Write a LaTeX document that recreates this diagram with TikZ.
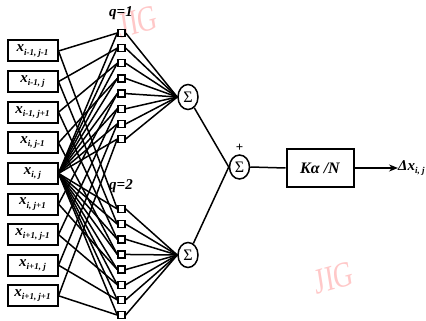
\documentclass[tikz,border=0pt]{standalone}
\usepackage{fontspec}
\setmainfont{Liberation Serif}
\usetikzlibrary{shapes.geometric,arrows.meta}
\definecolor{wm}{RGB}{255,200,200}
\tikzset{
  inbox/.style={draw,line width=2pt,minimum width=50pt,minimum height=21pt,inner sep=0pt,font=\bfseries\itshape\fontsize{15}{15}\selectfont},
  sq/.style={draw,line width=1.4pt,minimum size=7pt,inner sep=0pt},
  sig/.style={draw,ellipse,line width=1.5pt,minimum width=20pt,minimum height=25pt,inner sep=0pt,font=\fontsize{16}{16}\selectfont},
  gbox/.style={draw,line width=2pt,minimum width=67pt,minimum height=38pt,inner sep=0pt,font=\bfseries\itshape\fontsize{16}{16}\selectfont},
  wire/.style={line width=1.5pt},
  lbl/.style={font=\bfseries\itshape\fontsize{15}{15}\selectfont,inner sep=0pt},
  wmark/.style={text=wm,font=\fontsize{36}{36}\selectfont,xscale=0.75,rotate=12,inner sep=0pt}
}
\newcommand{\xs}[1]{x\raisebox{-0.45ex}{\fontsize{9}{9}\selectfont #1}}
\begin{document}
\begin{tikzpicture}[x=1pt,y=-1pt]
\useasboundingbox (0,0) rectangle (426,321);
% watermarks
\node[wmark] (wm1) at (138,22) {JIG};
\node[wmark] (wm2) at (334,278) {JIG};
% input boxes
\foreach \t [count=\k] in {{i-1, j-1},{i-1, j},{i-1, j+1},{i, j-1},{i, j},{i, j+1},{i+1, j-1},{i+1, j},{i+1, j+1}}{
  \node[inbox] (in\k) at (32.5,{51+30.6*(\k-1)}) {\xs{\t}};
}
% squares
\foreach \k in {1,...,8}{
  \node[sq] (a\k) at (121.5,{33+15.15*(\k-1)}) {};
  \node[sq] (b\k) at (121.5,{209+15.15*(\k-1)}) {};
}
\node[lbl] (q1) at (121,13) {q=1};
\node[lbl] (q2) at (121,186) {q=2};
% sums
\node[sig] (s1) at (188,97) {Σ};
\node[sig] (s2) at (188,255) {Σ};
\node[sig,minimum width=20pt,minimum height=24pt] (s3) at (239.5,167) {Σ};
\node[font=\bfseries\fontsize{13}{13}\selectfont,inner sep=0pt] (plus) at (239.5,147.5) {+};
\node[gbox] (g) at (320,168) {Kα /N};
\node[lbl,anchor=west] (out) at (398,168) {Δ\xs{i, j}};
% wires inputs to squares
\foreach \k in {1,...,8}{
  \draw[wire] (in5.east) -- (a\k.west);
  \draw[wire] (in5.east) -- (b\k.west);
  \draw[wire] (a\k.east) -- (s1.west);
  \draw[wire] (b\k.east) -- (s2.west);
}
\foreach \k/\n in {1/1,2/2,3/3,4/4,5/6,6/7,7/8,8/9}{
  \draw[wire] (in\n.east) -- (a\k.west);
  \draw[wire] (in\n.east) -- (b\k.west);
}
\draw[wire] (s1) -- (s3.west);
\draw[wire] (s2) -- (s3.west);
\draw[wire] (s3.east) -- (g.west);
\draw[wire,-{Stealth[length=9pt,width=7pt]}] (g.east) -- (out.west);
\end{tikzpicture}
\end{document}
